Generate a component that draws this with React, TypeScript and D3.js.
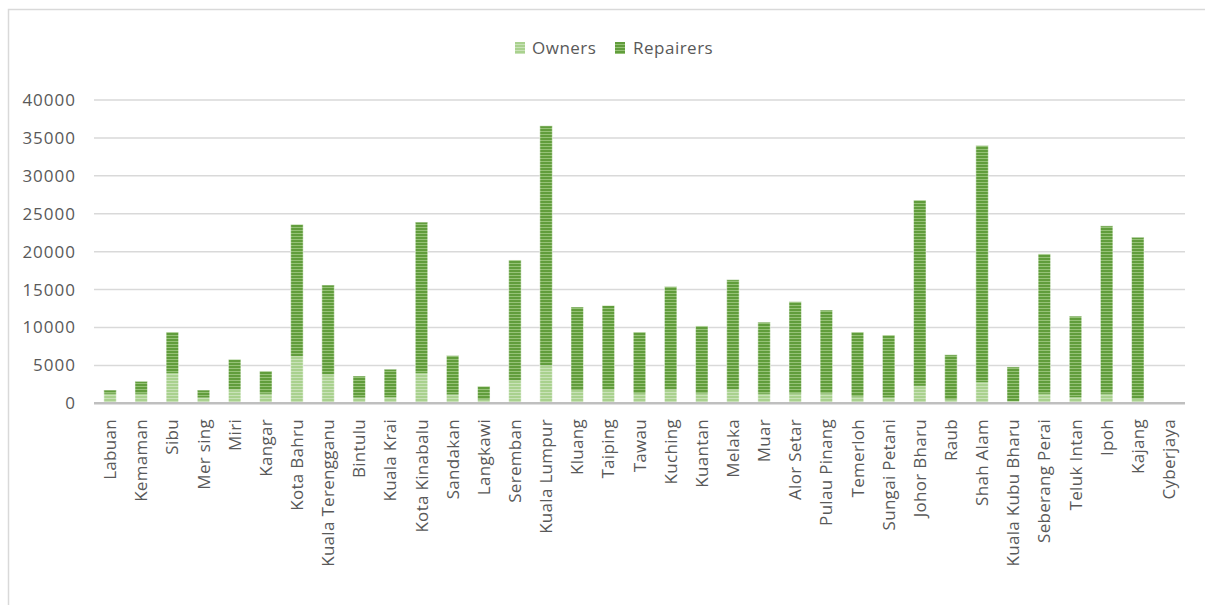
import React from "react";
import * as d3 from "d3";

const categories = ["Labuan","Kemaman","Sibu","Mer sing","Miri","Kangar","Kota Bahru","Kuala Terengganu","Bintulu","Kuala Krai","Kota Kinabalu","Sandakan","Langkawi","Seremban","Kuala Lumpur","Kluang","Taiping","Tawau","Kuching","Kuantan","Melaka","Muar","Alor Setar","Pulau Pinang","Temerloh","Sungai Petani","Johor Bharu","Raub","Shah Alam","Kuala Kubu Bharu","Seberang Perai","Teluk Intan","Ipoh","Kajang","Cyberjaya"];
const totals = [1750,2900,9400,1750,5800,4250,23600,15600,3600,4500,23900,6300,2250,18900,36600,12700,12900,9400,15400,10200,16300,10700,13400,12300,9400,9000,26800,6400,34000,4800,19700,11500,23400,21900,0];
const owners = [1250,1250,4000,750,1800,1250,6200,3800,750,800,4000,1150,500,3000,5000,1750,1800,1300,1800,1300,1800,1250,1300,1300,900,750,2300,500,2800,300,1250,800,1250,600,0];
const repairers = totals.map((t, i) => t - owners[i]);
const yTicks = [0,5000,10000,15000,20000,25000,30000,35000,40000];
const seriesNames = ["Owners", "Repairers"];

export default function App() {
  const W = 1205, H = 605;
  const x = d3.scaleBand<string>().domain(categories).range([94.5, 1184.5]).paddingInner(0.6).paddingOuter(0.3);
  const y = d3.scaleLinear().domain([0, 40000]).range([403.3, 100]);
  const font = "'Open Sans', sans-serif";
  const txt = "#595959";
  const bw = x.bandwidth();
  return (
    <svg width={W} height={H} style={{ position: "absolute", left: 0, top: 0, background: "#fff" }}>
      <defs>
        <pattern id="pOwn" width="4" height="3" patternUnits="userSpaceOnUse">
          <rect width="4" height="3" fill="#a9d18e" />
          <rect width="4" height="1" y="2" fill="#c9e2b8" />
        </pattern>
        <pattern id="pRep" width="4" height="3" patternUnits="userSpaceOnUse">
          <rect width="4" height="3" fill="#619d3c" />
          <rect width="4" height="1" y="2" fill="#96c277" />
        </pattern>
      </defs>
      <rect x={8.5} y={9.5} width={1300} height={700} fill="none" stroke="#d9d9d9" strokeWidth={1.5} />
      {yTicks.map(t => (
        <g key={t}>
          {t > 0 && <line x1={94} x2={1185} y1={y(t)} y2={y(t)} stroke="#d9d9d9" strokeWidth={1.5} />}
          <text x={76} y={y(t)} dy="0.35em" textAnchor="end" fontFamily={font} fontSize={17} letterSpacing={1} fill={txt}>{t}</text>
        </g>
      ))}
      {categories.map((c, i) => {
        const x0 = x(c)!;
        return (
          <g key={c}>
            {owners[i] > 0 && <rect x={x0} width={bw} y={y(owners[i])} height={y(0) - y(owners[i])} fill="url(#pOwn)" />}
            {repairers[i] > 0 && <rect x={x0} width={bw} y={y(totals[i])} height={y(owners[i]) - y(totals[i])} fill="url(#pRep)" />}
            {totals[i] > 0 && <rect x={x0} width={bw} y={y(totals[i])} height={y(0) - y(totals[i])} fill="none" stroke="#ffffff" strokeOpacity={0.5} strokeWidth={1} />}
          </g>
        );
      })}
      <line x1={94} x2={1185} y1={y(0)} y2={y(0)} stroke="#bfbfbf" strokeWidth={2.5} />
      {categories.map(c => {
        const cx = x(c)! + bw / 2;
        return (
          <text key={c} transform={`translate(${cx},419) rotate(-90)`} dy="0.36em" textAnchor="end" fontFamily={font} fontSize={17} letterSpacing={0.3} fill={txt}>{c}</text>
        );
      })}
      <g>
        <rect x={515} y={42} width={10} height={12} fill="url(#pOwn)" />
        <text x={532} y={48} dy="0.35em" fontFamily={font} fontSize={17} letterSpacing={0.5} fill={txt}>{seriesNames[0]}</text>
        <rect x={615} y={42} width={10} height={12} fill="url(#pRep)" />
        <text x={633} y={48} dy="0.35em" fontFamily={font} fontSize={17} letterSpacing={0.5} fill={txt}>{seriesNames[1]}</text>
      </g>
    </svg>
  );
}
